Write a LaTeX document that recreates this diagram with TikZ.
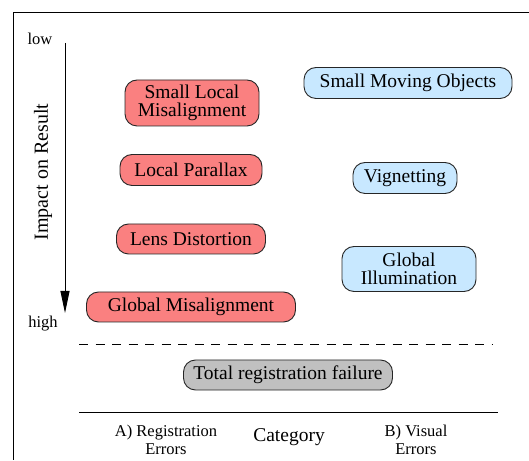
\documentclass[tikz,border=0pt]{standalone}
\usepackage{fontspec}
\setmainfont{Liberation Serif}
\usetikzlibrary{arrows.meta}
\definecolor{redbox}{RGB}{250,128,128}
\definecolor{bluebox}{RGB}{200,232,255}
\definecolor{greybox}{RGB}{192,192,192}
\tikzset{
  pill/.style={draw=black!85, line width=0.9pt, rounded corners=12pt, inner sep=0pt, align=center, font=\fontsize{19.5}{18}\selectfont},
  errred/.style={pill, fill=redbox},
  errblue/.style={pill, fill=bluebox},
  errgrey/.style={pill, fill=greybox},
  small/.style={font=\fontsize{16.5}{18}\selectfont, align=center, inner sep=0pt},
}
\begin{document}
\begin{tikzpicture}[x=1pt,y=1pt]
\useasboundingbox (0,0) rectangle (529,460);
% frame
\draw[line width=0.9pt] (529,448) -- (13,448) -- (13,0);
% axis
\node[small] (low) at (40,421) {low};
\node[small] (high) at (43,136) {high};
\coordinate (atop) at (65,417);
\coordinate (abot) at (65,147);
\draw[line width=0.9pt, -{Triangle[length=22pt,width=9pt]}] (atop) -- (abot);
\node[font=\fontsize{20}{20}\selectfont, rotate=90] (impact) at (43,288) {Impact on Result};
% boxes
\node[errred, minimum width=134pt, minimum height=46pt] (slm) at (192,357) {Small Local\\Misalignment};
\node[errblue, minimum width=208pt, minimum height=31pt] (smo) at (408,377) {Small Moving Objects};
\node[errred, minimum width=142pt, minimum height=31pt] (lp) at (191,290) {Local Parallax};
\node[errblue, minimum width=104pt, minimum height=31pt] (vig) at (405,282) {Vignetting};
\node[errred, minimum width=149pt, minimum height=30pt] (ld) at (191,221) {Lens Distortion};
\node[errblue, minimum width=134pt, minimum height=45pt] (gi) at (409,191) {Global\\Illumination};
\node[errred, minimum width=209pt, minimum height=30pt] (gm) at (191,153) {Global Misalignment};
% separator
\coordinate (dl) at (79,116);
\coordinate (dr) at (492,116);
\draw[line width=0.9pt, dash pattern=on 9pt off 7.5pt] (dl) -- (dr);
\node[errgrey, minimum width=209pt, minimum height=30pt] (trf) at (288,85) {Total registration failure};
\coordinate (sl) at (79,48);
\coordinate (sr) at (498,48);
\draw[line width=0.9pt] (sl) -- (sr);
\node[small] (ca) at (166,20) {A) Registration\\Errors};
\node[font=\fontsize{19.5}{20}\selectfont] (cat) at (289,23) {Category};
\node[small] (cb) at (416,20) {B) Visual\\Errors};
\end{tikzpicture}
\end{document}
